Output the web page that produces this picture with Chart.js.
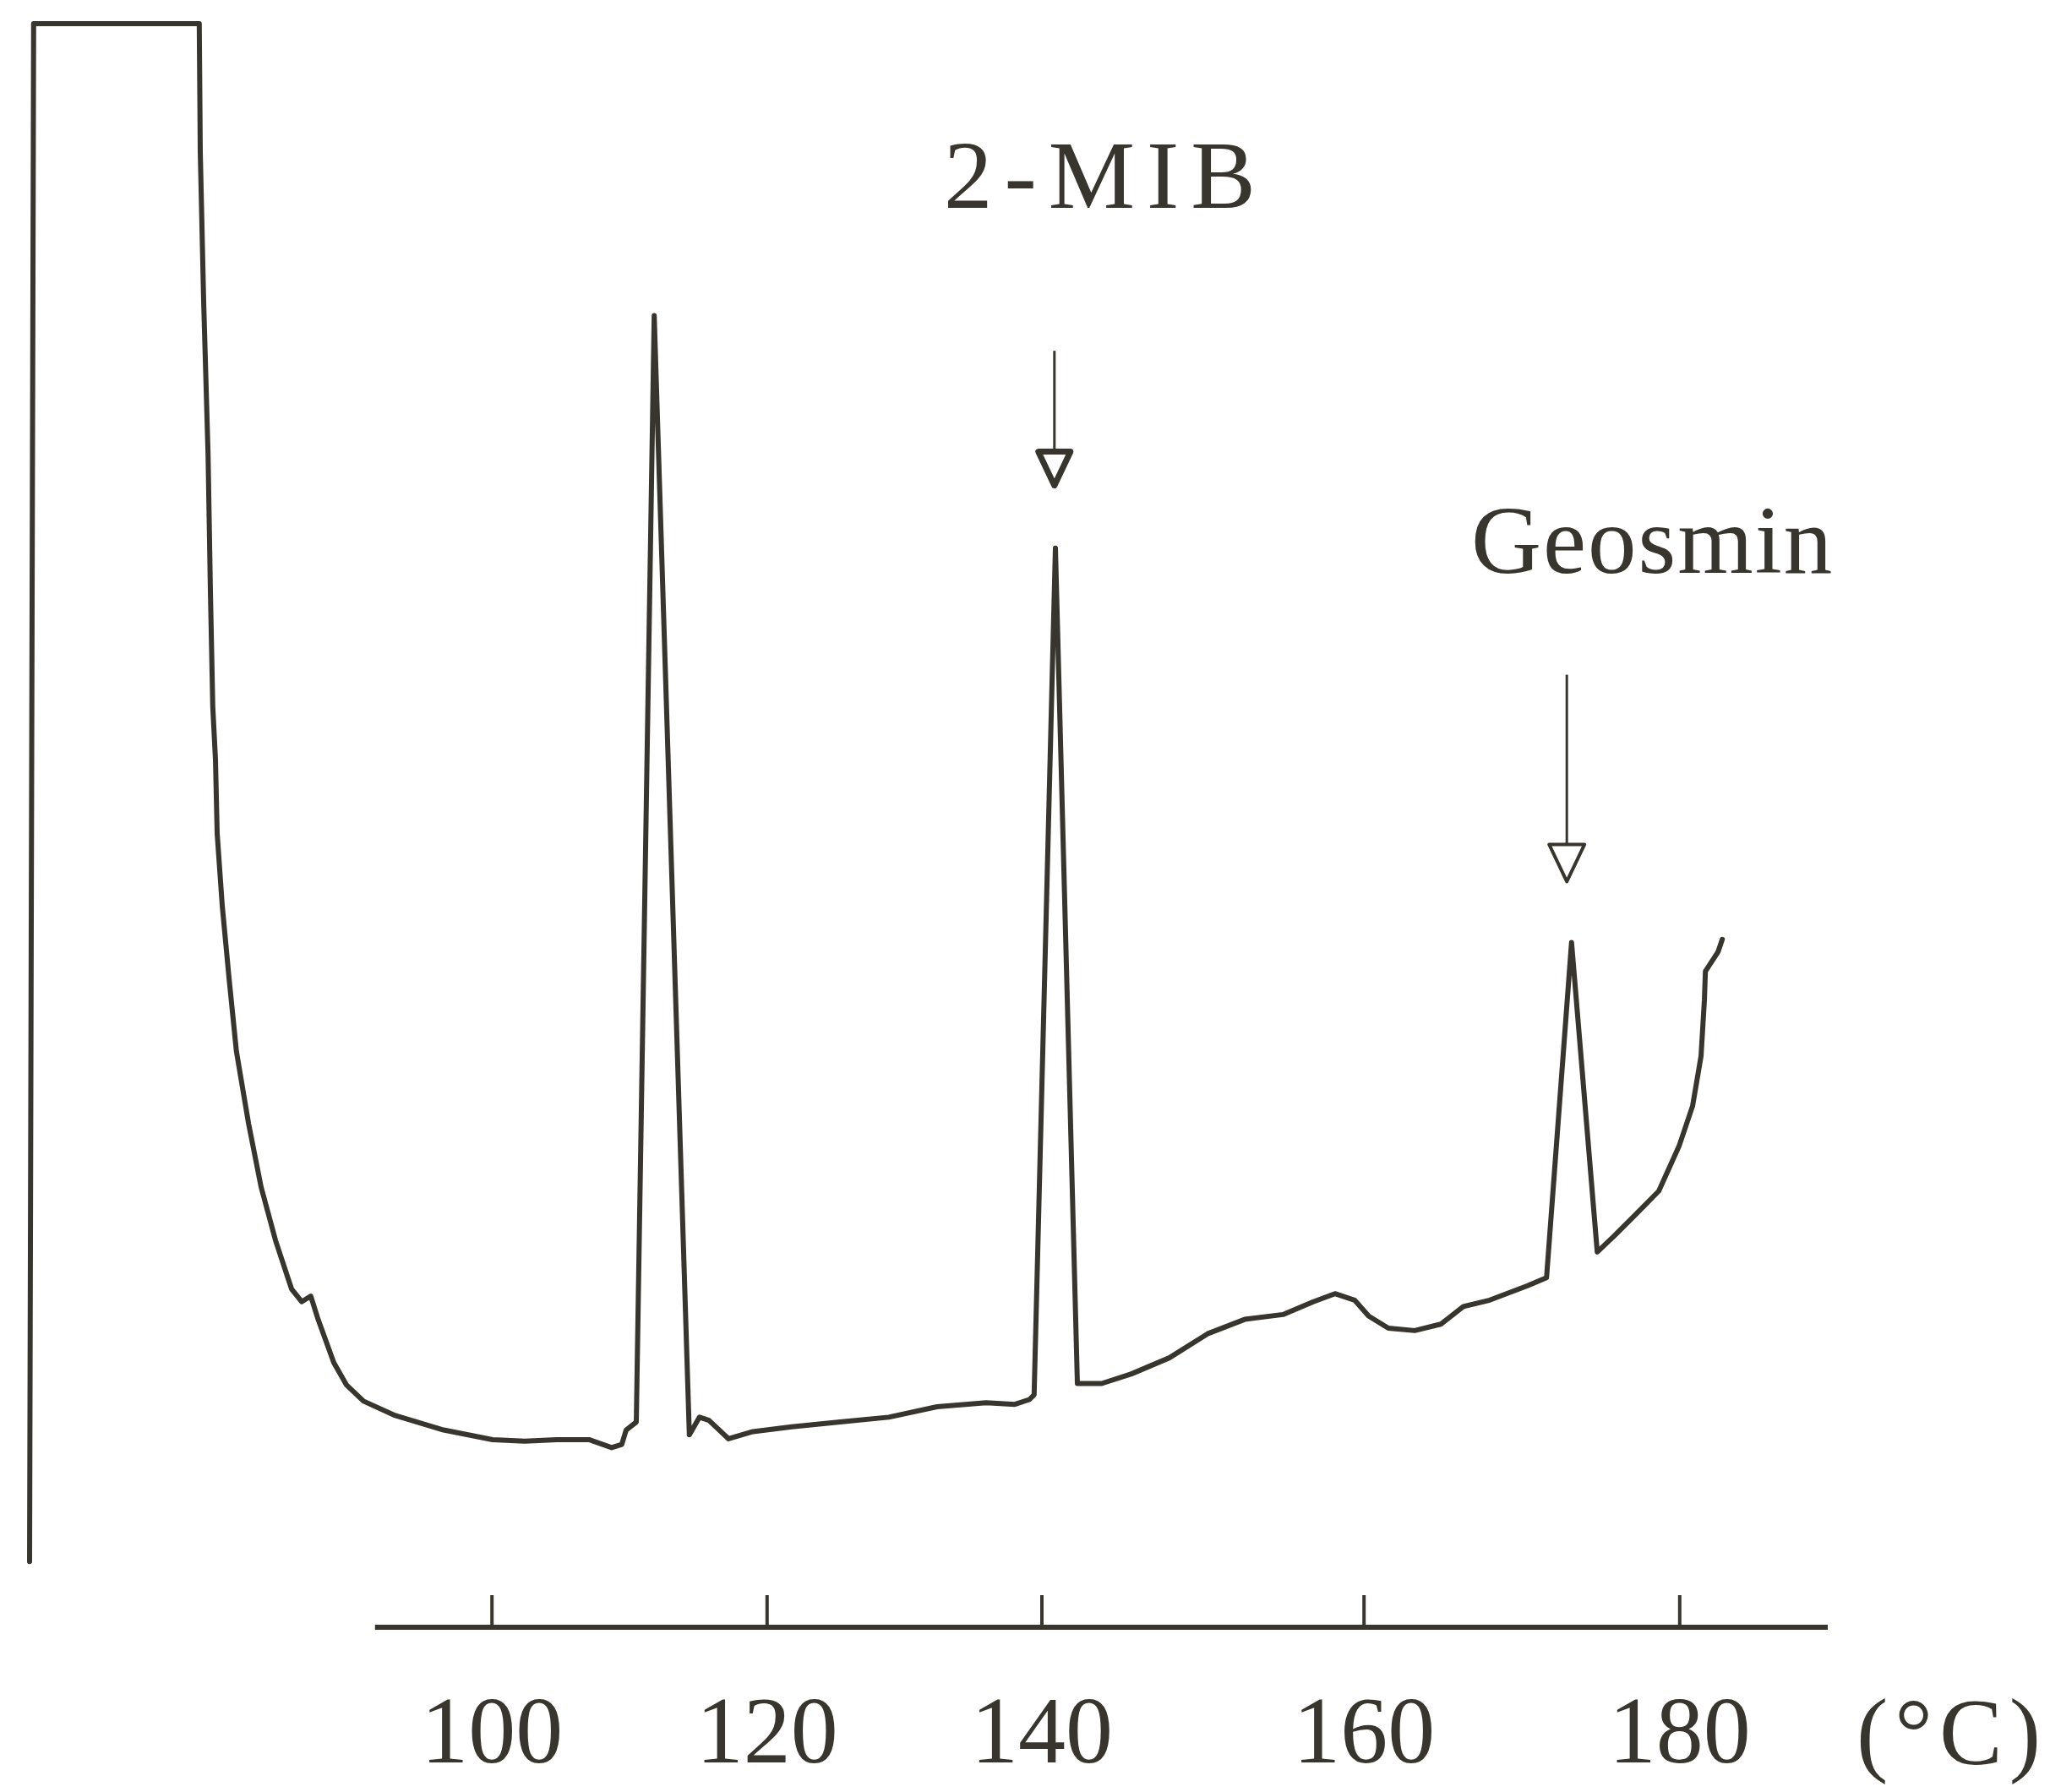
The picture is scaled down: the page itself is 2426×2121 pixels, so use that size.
<!DOCTYPE html>
<html>
<head>
<meta charset="utf-8">
<script src="https://cdn.jsdelivr.net/npm/chart.js@4.4.1/dist/chart.umd.min.js"></script>
<style>
  html, body { margin: 0; padding: 0; background: #fff; }
  canvas { display: block; }
</style>
</head>
<body>
<canvas id="gc-trace" width="2426" height="2121"></canvas>
<script>
// retention time (min) and detector response (% of full scale)
const retentionTime = [
  0.05, 0.11, 2.56, 2.575, 2.625, 2.69, 2.725, 2.76, 2.80, 2.825,
  2.90, 3.00, 3.11, 3.29, 3.475, 3.69, 3.925, 4.075, 4.21, 4.31,
  4.55, 4.74, 4.99, 5.46, 6.175, 6.90, 7.375, 7.85, 8.325, 8.66,
  8.81, 8.875, 9.025, 9.29, 9.81, 9.96, 10.10, 10.39, 10.75, 11.325,
  12.04, 12.76, 13.475, 14.2, 14.625, 14.84, 14.91, 15.225, 15.55, 15.91,
  16.35, 16.91, 17.475, 18.025, 18.59, 19.04, 19.36, 19.65, 19.86, 20.15,
  20.54, 20.925, 21.26, 21.65, 22.21, 22.49, 22.86, 23.24, 23.49, 23.775,
  24.15, 24.45, 24.65, 24.775, 24.825, 24.84, 25.025, 25.09
];
const response = [
  4.1, 100, 100, 92.0, 82.7, 73.2, 64.6, 57.4, 54.1, 49.5,
  45.0, 40.5, 35.9, 31.4, 27.45, 24.1, 21.1, 20.3, 20.65, 19.3,
  16.5, 15.1, 14.1, 13.2, 12.3, 11.7, 11.6, 11.7, 11.7, 11.2,
  11.4, 12.3, 12.8, 81.8, 12.0, 13.1, 12.9, 11.75, 12.2, 12.5,
  12.8, 13.1, 13.75, 14.0, 13.9, 14.2, 14.5, 67.3, 15.2, 15.2,
  15.8, 16.8, 18.3, 19.2, 19.5, 20.3, 20.8, 20.4, 19.4, 18.65,
  18.5, 18.9, 20.0, 20.4, 21.3, 21.8, 42.7, 23.4, 24.4, 25.6,
  27.2, 30.0, 32.5, 35.6, 39.1, 40.9, 42.1, 42.9
];

// column temperature marks on the time axis
const tempTickTimes = [6.89, 10.96, 15.025, 19.79, 24.46];
const tempTickLabels = ["100", "120", "140", "160", "180"];
const tempAxisStart = 5.16;
const tempAxisEnd = 26.65;
const tempUnit = "(°C)";

// peak labels and their arrows
const peakNames = ["2-MIB", "Geosmin"];
const peakLabelX = [13.575, 21.375];
const peakLabelY = [88.5, 65.75];
const arrowX = [15.21, 22.79];
const arrowTop = [79.6, 59.4];
const arrowTip = [71.2, 46.5];

const ink = "#37352d";
const serif = "'Liberation Serif', 'DejaVu Serif', serif";

const tempAxisPlugin = {
  id: "tempAxis",
  afterDraw(chart) {
    const ctx = chart.ctx;
    const x = chart.scales.x;
    const y = chart.scales.y;
    const base = chart.chartArea.bottom;

    ctx.save();
    ctx.strokeStyle = ink;
    ctx.lineCap = "butt";

    // temperature scale line
    ctx.lineWidth = 6;
    ctx.beginPath();
    ctx.moveTo(x.getPixelForValue(tempAxisStart), base);
    ctx.lineTo(x.getPixelForValue(tempAxisEnd), base);
    ctx.stroke();

    // tick marks pointing up
    ctx.lineWidth = 4;
    tempTickTimes.forEach((t) => {
      const px = x.getPixelForValue(t);
      ctx.beginPath();
      ctx.moveTo(px, base);
      ctx.lineTo(px, base - 38);
      ctx.stroke();
    });

    // unit label
    ctx.fillStyle = ink;
    ctx.font = "112px " + serif;
    ctx.textBaseline = "alphabetic";
    ctx.textAlign = "left";
    if ("letterSpacing" in ctx) ctx.letterSpacing = "8px";
    ctx.fillText(tempUnit, x.getPixelForValue(27.075), 2088);

    // peak names
    ctx.font = "115px " + serif;
    peakNames.forEach((name, i) => {
      if ("letterSpacing" in ctx) ctx.letterSpacing = i === 0 ? "14px" : "2px";
      ctx.fillText(name, x.getPixelForValue(peakLabelX[i]), y.getPixelForValue(peakLabelY[i]));
    });
    if ("letterSpacing" in ctx) ctx.letterSpacing = "0px";

    // arrows with open heads
    arrowX.forEach((t, i) => {
      const px = x.getPixelForValue(t);
      const top = y.getPixelForValue(arrowTop[i]);
      const tip = y.getPixelForValue(arrowTip[i]);
      const headH = i === 0 ? 40 : 44;
      const headW = i === 0 ? 19 : 21;
      ctx.lineWidth = 3;
      ctx.beginPath();
      ctx.moveTo(px, top);
      ctx.lineTo(px, tip - headH);
      ctx.stroke();
      ctx.lineWidth = i === 0 ? 7 : 4;
      ctx.lineJoin = "round";
      ctx.beginPath();
      ctx.moveTo(px - headW, tip - headH);
      ctx.lineTo(px + headW, tip - headH);
      ctx.lineTo(px, tip);
      ctx.closePath();
      ctx.stroke();
    });

    ctx.restore();
  },
};

const ctx = document.getElementById("gc-trace");

new Chart(ctx, {
  type: "line",
  data: {
    datasets: [
      {
        label: "GC trace",
        data: retentionTime.map((t, i) => ({ x: t, y: response[i] })),
        borderColor: ink,
        borderWidth: 6,
        pointRadius: 0,
        tension: 0,
        borderJoinStyle: "round",
        borderCapStyle: "round",
        clip: false,
      },
    ],
  },
  options: {
    responsive: false,
    animation: false,
    devicePixelRatio: 1,
    layout: { padding: { left: 31, right: 263, top: 28, bottom: 0 } },
    plugins: {
      legend: { display: false },
      tooltip: { enabled: false },
      title: { display: false },
    },
    scales: {
      x: {
        type: "linear",
        min: 0,
        max: tempAxisEnd,
        grid: { display: false },
        border: { display: false },
        afterBuildTicks: (scale) => {
          scale.ticks = tempTickTimes.map((v) => ({ value: v }));
        },
        afterFit: (scale) => {
          scale.height = 195;
        },
        ticks: {
          autoSkip: false,
          maxRotation: 0,
          padding: 55,
          color: ink,
          font: { family: serif, size: 112 },
          callback: (value, index) => tempTickLabels[index],
        },
      },
      y: {
        display: false,
        min: 0,
        max: 100,
      },
    },
  },
  plugins: [tempAxisPlugin],
});
</script>
</body>
</html>
